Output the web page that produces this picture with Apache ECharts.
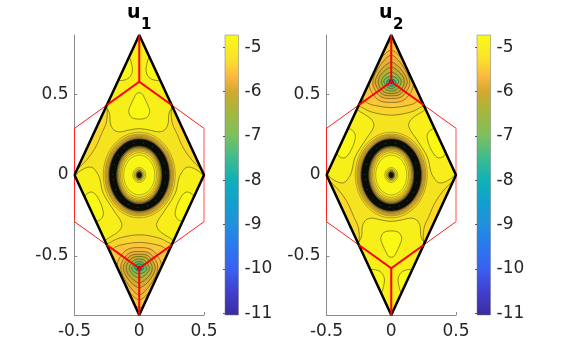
<!DOCTYPE html>
<html>
<head>
<meta charset="utf-8">
<style>html,body{margin:0;background:#fff}#main{width:572px;height:354px}</style>
<script src="https://cdn.jsdelivr.net/npm/echarts@6/dist/echarts.min.js"></script>
</head>
<body>
<div id="main"></div>
<script>
// tick labels
var xTicks = [-0.5, 0, 0.5];
var yTicks = [-0.5, 0, 0.5];
var barTicks = [-11, -10, -9, -8, -7, -6, -5];

// colour bar
var barRange = [-11.04, -4.72];
var barValues = [-4.72, -5.3, -5.66, -6, -6.5, -7, -7.5, -8, -8.5, -9, -9.5, -10, -10.5, -11.04];
var barColors = ['#f9fb15', '#fadf2c', '#fdb840', '#d2a92e', '#a2b83f', '#7cc05f', '#3cbc90', '#10b0b8', '#12a0d0', '#2090dc', '#2a78f0', '#3a60f0', '#4040d0', '#3a2ca0'];

// mesh lines
var rhombus = [[-0.5, 0], [0, 0.866], [0.5, 0], [0, -0.866], [-0.5, 0]];
var hexagon = [[0.5, 0.2887], [0, 0.577], [-0.5, 0.2887], [-0.5, -0.2887], [0, -0.577], [0.5, -0.2887]];
var hexRight = [[0.5, -0.2887], [0.5, 0.2887]];
var edgesTop = [[-0.25, 0.433], [0, 0.577], [0.25, 0.433]];
var edgesTopV = [[0, 0.577], [0, 0.866]];
var edgesBot = [[-0.25, -0.433], [0, -0.577], [0.25, -0.433]];
var edgesBotV = [[0, -0.577], [0, -0.866]];

// rings round the centre (both panels): half width, half height, fill
var ringRx = [0.278, 0.266, 0.259, 0.251, 0.243, 0.237, 0.232, 0.176, 0.168, 0.161, 0.154, 0.145, 0.134, 0.12, 0.05, 0.039, 0.027, 0.019];
var ringRy = [0.265, 0.253, 0.246, 0.239, 0.233, 0.228, 0.222, 0.18, 0.172, 0.165, 0.157, 0.149, 0.138, 0.123, 0.046, 0.037, 0.028, 0.019];
var ringFill = ['#f8d92b', '#fbcf32', '#fbc43a', '#f4b93a', '#e0ad30', '#8a7a28', '#0b0b08', '#6a6a24', '#c0a42c', '#f0b63a', '#fbcb32', '#f8dd28', '#f6ec1e', '#f8f517', '#f5ea1e', '#e5c52a', '#7a7a30', '#111111'];
var speckRing = [0, 0, 0.204, 0.201];

// contours of u1, painted in this order
var u1Contours = [
  [[-0.262, 0.44], [-0.23, 0.383], [-0.222, 0.315], [-0.195, 0.278], [-0.149, 0.267], [-0.079, 0.278], [0, 0.287], [0.079, 0.278], [0.149, 0.267], [0.195, 0.278], [0.222, 0.315], [0.23, 0.383], [0.262, 0.44], [0.2, 0.8], [0, 1.1], [-0.2, 0.8]],
  [[-0.08, 0.73], [-0.058, 0.682], [-0.054, 0.638], [-0.077, 0.603], [-0.123, 0.586], [-0.17, 0.59], [-0.22, 0.66], [-0.15, 0.76]],
  [[0.08, 0.73], [0.058, 0.682], [0.054, 0.638], [0.077, 0.603], [0.123, 0.586], [0.17, 0.59], [0.22, 0.66], [0.15, 0.76]],
  [[-0.018, 0.505], [-0.041, 0.475], [-0.066, 0.432], [-0.081, 0.391], [-0.058, 0.356], [0, 0.346], [0.058, 0.356], [0.081, 0.391], [0.066, 0.432], [0.041, 0.475], [0.018, 0.505]],
  [[-0.26, 0.44], [-0.252, 0.333], [-0.29, 0.257], [-0.342, 0.165], [-0.406, 0.093], [-0.471, 0.041], [-0.52, 0], [-0.56, 0.2], [-0.35, 0.5]],
  [[0.26, 0.44], [0.252, 0.333], [0.29, 0.257], [0.342, 0.165], [0.406, 0.093], [0.471, 0.041], [0.52, 0], [0.56, 0.2], [0.35, 0.5]],
  [[-0.5, -0.02], [-0.444, 0.031], [-0.367, 0.048], [-0.316, 0], [-0.303, -0.031], [-0.278, -0.113], [-0.2, -0.216], [-0.136, -0.298], [-0.149, -0.34], [-0.239, -0.391], [-0.31, -0.42], [-0.48, -0.2]],
  [[0.5, -0.02], [0.444, 0.031], [0.367, 0.048], [0.316, 0], [0.303, -0.031], [0.278, -0.113], [0.2, -0.216], [0.136, -0.298], [0.149, -0.34], [0.239, -0.391], [0.31, -0.42], [0.48, -0.2]],
  [[-0.42, -0.13], [-0.367, -0.105], [-0.32, -0.14], [-0.278, -0.227], [-0.29, -0.268], [-0.34, -0.285], [-0.44, -0.2]],
  [[0.42, -0.13], [0.367, -0.105], [0.32, -0.14], [0.278, -0.227], [0.29, -0.268], [0.34, -0.285], [0.44, -0.2]],
  [[-0.31, -0.46], [-0.226, -0.418], [-0.149, -0.389], [0, -0.37], [0.149, -0.389], [0.226, -0.418], [0.31, -0.46], [0.2, -0.8], [0, -1], [-0.2, -0.8]],
  [[0, -0.417], [-0.136, -0.432], [-0.195, -0.452], [-0.26, -0.52], [-0.19, -0.68], [-0.07, -0.775], [0, -0.821], [0.07, -0.775], [0.19, -0.68], [0.26, -0.52], [0.195, -0.452], [0.136, -0.432]],
  [[0, -0.449], [-0.09, -0.46], [-0.15, -0.51], [-0.172, -0.568], [-0.15, -0.63], [-0.09, -0.71], [-0.04, -0.755], [0, -0.772], [0.04, -0.755], [0.09, -0.71], [0.15, -0.63], [0.172, -0.568], [0.15, -0.51], [0.09, -0.46]],
  [[0, -0.473], [-0.075, -0.482], [-0.125, -0.525], [-0.143, -0.57], [-0.125, -0.625], [-0.075, -0.69], [-0.03, -0.73], [0, -0.741], [0.03, -0.73], [0.075, -0.69], [0.125, -0.625], [0.143, -0.57], [0.125, -0.525], [0.075, -0.482]],
  [[0, -0.49], [-0.065, -0.498], [-0.105, -0.535], [-0.124, -0.575], [-0.105, -0.62], [-0.065, -0.665], [-0.025, -0.69], [0, -0.698], [0.025, -0.69], [0.065, -0.665], [0.105, -0.62], [0.124, -0.575], [0.105, -0.535], [0.065, -0.498]],
  [[0, -0.504], [-0.055, -0.513], [-0.09, -0.545], [-0.1, -0.58], [-0.085, -0.615], [-0.05, -0.645], [-0.02, -0.662], [0, -0.667], [0.02, -0.662], [0.05, -0.645], [0.085, -0.615], [0.1, -0.58], [0.09, -0.545], [0.055, -0.513]],
  [[0, -0.52], [-0.04, -0.528], [-0.068, -0.555], [-0.077, -0.58], [-0.062, -0.605], [-0.035, -0.625], [0, -0.636], [0.035, -0.625], [0.062, -0.605], [0.077, -0.58], [0.068, -0.555], [0.04, -0.528]],
  [[0, -0.535], [-0.03, -0.542], [-0.05, -0.565], [-0.058, -0.58], [-0.04, -0.6], [0, -0.611], [0.04, -0.6], [0.058, -0.58], [0.05, -0.565], [0.03, -0.542]],
  [[0, -0.549], [-0.025, -0.555], [-0.035, -0.575], [-0.02, -0.59], [0, -0.593], [0.02, -0.59], [0.035, -0.575], [0.025, -0.555]],
  [[0, -0.565], [-0.014, -0.57], [-0.016, -0.58], [0, -0.59], [0.016, -0.58], [0.014, -0.57]]
];

// contours of u2
var u2Contours = [
  [[-0.262, -0.44], [-0.23, -0.383], [-0.222, -0.315], [-0.195, -0.278], [-0.149, -0.267], [-0.079, -0.278], [0, -0.287], [0.079, -0.278], [0.149, -0.267], [0.195, -0.278], [0.222, -0.315], [0.23, -0.383], [0.262, -0.44], [0.2, -0.8], [0, -1.1], [-0.2, -0.8]],
  [[-0.08, -0.73], [-0.058, -0.682], [-0.054, -0.638], [-0.077, -0.603], [-0.123, -0.586], [-0.17, -0.59], [-0.22, -0.66], [-0.15, -0.76]],
  [[0.08, -0.73], [0.058, -0.682], [0.054, -0.638], [0.077, -0.603], [0.123, -0.586], [0.17, -0.59], [0.22, -0.66], [0.15, -0.76]],
  [[-0.018, -0.505], [-0.041, -0.475], [-0.066, -0.432], [-0.081, -0.391], [-0.058, -0.356], [0, -0.346], [0.058, -0.356], [0.081, -0.391], [0.066, -0.432], [0.041, -0.475], [0.018, -0.505]],
  [[-0.26, -0.44], [-0.252, -0.333], [-0.29, -0.257], [-0.342, -0.165], [-0.406, -0.093], [-0.471, -0.041], [-0.52, 0], [-0.56, -0.2], [-0.35, -0.5]],
  [[0.26, -0.44], [0.252, -0.333], [0.29, -0.257], [0.342, -0.165], [0.406, -0.093], [0.471, -0.041], [0.52, 0], [0.56, -0.2], [0.35, -0.5]],
  [[-0.5, 0.02], [-0.444, -0.031], [-0.367, -0.048], [-0.316, 0], [-0.303, 0.031], [-0.278, 0.113], [-0.2, 0.216], [-0.136, 0.298], [-0.149, 0.34], [-0.239, 0.391], [-0.31, 0.42], [-0.48, 0.2]],
  [[0.5, 0.02], [0.444, -0.031], [0.367, -0.048], [0.316, 0], [0.303, 0.031], [0.278, 0.113], [0.2, 0.216], [0.136, 0.298], [0.149, 0.34], [0.239, 0.391], [0.31, 0.42], [0.48, 0.2]],
  [[-0.42, 0.13], [-0.367, 0.105], [-0.32, 0.14], [-0.278, 0.227], [-0.29, 0.268], [-0.34, 0.285], [-0.44, 0.2]],
  [[0.42, 0.13], [0.367, 0.105], [0.32, 0.14], [0.278, 0.227], [0.29, 0.268], [0.34, 0.285], [0.44, 0.2]],
  [[-0.31, 0.46], [-0.226, 0.418], [-0.149, 0.389], [0, 0.37], [0.149, 0.389], [0.226, 0.418], [0.31, 0.46], [0.2, 0.8], [0, 1], [-0.2, 0.8]],
  [[0, 0.417], [-0.136, 0.432], [-0.195, 0.452], [-0.26, 0.52], [-0.19, 0.68], [-0.07, 0.775], [0, 0.821], [0.07, 0.775], [0.19, 0.68], [0.26, 0.52], [0.195, 0.452], [0.136, 0.432]],
  [[0, 0.449], [-0.09, 0.46], [-0.15, 0.51], [-0.172, 0.568], [-0.15, 0.63], [-0.09, 0.71], [-0.04, 0.755], [0, 0.772], [0.04, 0.755], [0.09, 0.71], [0.15, 0.63], [0.172, 0.568], [0.15, 0.51], [0.09, 0.46]],
  [[0, 0.473], [-0.075, 0.482], [-0.125, 0.525], [-0.143, 0.57], [-0.125, 0.625], [-0.075, 0.69], [-0.03, 0.73], [0, 0.741], [0.03, 0.73], [0.075, 0.69], [0.125, 0.625], [0.143, 0.57], [0.125, 0.525], [0.075, 0.482]],
  [[0, 0.49], [-0.065, 0.498], [-0.105, 0.535], [-0.124, 0.575], [-0.105, 0.62], [-0.065, 0.665], [-0.025, 0.69], [0, 0.698], [0.025, 0.69], [0.065, 0.665], [0.105, 0.62], [0.124, 0.575], [0.105, 0.535], [0.065, 0.498]],
  [[0, 0.504], [-0.055, 0.513], [-0.09, 0.545], [-0.1, 0.58], [-0.085, 0.615], [-0.05, 0.645], [-0.02, 0.662], [0, 0.667], [0.02, 0.662], [0.05, 0.645], [0.085, 0.615], [0.1, 0.58], [0.09, 0.545], [0.055, 0.513]],
  [[0, 0.52], [-0.04, 0.528], [-0.068, 0.555], [-0.077, 0.58], [-0.062, 0.605], [-0.035, 0.625], [0, 0.636], [0.035, 0.625], [0.062, 0.605], [0.077, 0.58], [0.068, 0.555], [0.04, 0.528]],
  [[0, 0.535], [-0.03, 0.542], [-0.05, 0.565], [-0.058, 0.58], [-0.04, 0.6], [0, 0.611], [0.04, 0.6], [0.058, 0.58], [0.05, 0.565], [0.03, 0.542]],
  [[0, 0.549], [-0.025, 0.555], [-0.035, 0.575], [-0.02, 0.59], [0, 0.593], [0.02, 0.59], [0.035, 0.575], [0.025, 0.555]],
  [[0, 0.565], [-0.014, 0.57], [-0.016, 0.58], [0, 0.59], [0.016, 0.58], [0.014, 0.57]]
];

// fill of each contour, same order as the lists above
var contourFill = ['#f7ee1a', '#f9f915', '#f9f915', '#f9f915', '#fad92a', '#fad92a', '#f7ee1a', '#f7ee1a', '#f9f915', '#f9f915',
  '#f9d42c', '#fbc63a', '#f6bb3b', '#e8b237', '#d4ab2f', '#b8b037', '#96b848', '#6cbc66', '#36a898', '#0a2a2a'];

var baseFill = '#f5e31f';
var contourLine = 'rgba(50,50,15,0.85)';
var labelFont = 'DejaVu Sans';

function rhombusClip(api) {
  return { type: 'polygon', shape: { points: rhombus.map(function (p) { return api.coord(p); }) } };
}

function contourSeries(shapes, idx) {
  return {
    type: 'custom', xAxisIndex: idx, yAxisIndex: idx, z: 3, animation: false, silent: true, clip: false,
    data: shapes.map(function (s, i) { return [i]; }),
    renderItem: function (params, api) {
      var i = params.dataIndex;
      return {
        type: 'polygon',
        shape: { points: shapes[i].map(function (p) { return api.coord(p); }), smooth: 0.35 },
        clipPath: rhombusClip(api),
        style: { fill: contourFill[i], stroke: contourLine, lineWidth: 0.6 }
      };
    }
  };
}

function ringSeries(idx) {
  return {
    type: 'custom', xAxisIndex: idx, yAxisIndex: idx, z: 4, animation: false, silent: true, clip: false,
    data: ringRx.map(function (r, i) { return [0, 0, r, ringRy[i]]; }),
    renderItem: function (params, api) {
      var c = api.coord([api.value(0), api.value(1)]);
      var s = api.size([api.value(2), api.value(3)]);
      return {
        type: 'ellipse',
        shape: { cx: c[0], cy: c[1], rx: s[0], ry: s[1] },
        style: { fill: ringFill[params.dataIndex], stroke: contourLine, lineWidth: 0.4 }
      };
    }
  };
}

// the teal flecks inside the black band
function speckSeries(idx) {
  return {
    type: 'custom', xAxisIndex: idx, yAxisIndex: idx, z: 5, animation: false, silent: true, clip: false,
    data: [speckRing],
    renderItem: function (params, api) {
      var c = api.coord([api.value(0), api.value(1)]);
      var s = api.size([api.value(2), api.value(3)]);
      return {
        type: 'ellipse',
        shape: { cx: c[0], cy: c[1], rx: s[0], ry: s[1] },
        style: { fill: 'none', stroke: '#0f5f66', lineWidth: 0.8, lineDash: [1, 9] }
      };
    }
  };
}

function lineSeries(points, idx, color, width, z) {
  return {
    type: 'line', xAxisIndex: idx, yAxisIndex: idx, data: points, z: z, clip: false,
    showSymbol: false, silent: true, animation: false,
    lineStyle: { color: color, width: width }
  };
}

function barSeries(idx) {
  var span = barRange[1] - barRange[0];
  var stops = barValues.map(function (v, i) {
    return { offset: (barRange[1] - v) / span, color: barColors[i] };
  });
  return {
    type: 'custom', xAxisIndex: idx, yAxisIndex: idx, animation: false, silent: true, clip: false,
    data: [[0, barRange[1], 1, span]],
    renderItem: function (params, api) {
      var c = api.coord([api.value(0), api.value(1)]);
      var s = api.size([api.value(2), api.value(3)]);
      return {
        type: 'rect',
        shape: { x: c[0], y: c[1], width: s[0], height: s[1] },
        style: { fill: new echarts.graphic.LinearGradient(0, 0, 0, 1, stops), stroke: '#777', lineWidth: 0.5 }
      };
    }
  };
}

function plotAxes(x, y) {
  x.push({
    gridIndex: x.length, type: 'value', min: -0.5, max: 0.5, splitLine: { show: false },
    axisLine: { onZero: false, lineStyle: { color: '#8a8a8a' } },
    axisTick: { inside: true, length: 3, customValues: xTicks, lineStyle: { color: '#8a8a8a' } },
    axisLabel: { customValues: xTicks, margin: 8, color: '#262626', fontFamily: labelFont, fontSize: 17, hideOverlap: false }
  });
  y.push({
    gridIndex: y.length, type: 'value', min: -0.866, max: 0.866, splitLine: { show: false },
    axisLine: { onZero: false, lineStyle: { color: '#8a8a8a' } },
    axisTick: { inside: true, length: 3, customValues: yTicks, lineStyle: { color: '#8a8a8a' } },
    axisLabel: { customValues: yTicks, margin: 6, color: '#262626', fontFamily: labelFont, fontSize: 17 }
  });
}

function barAxes(x, y) {
  x.push({ gridIndex: x.length, type: 'value', min: 0, max: 1, show: false });
  y.push({
    gridIndex: y.length, type: 'value', position: 'right', min: barRange[0], max: barRange[1],
    splitLine: { show: false }, axisLine: { show: false },
    axisTick: { inside: true, length: 2, customValues: barTicks, lineStyle: { color: '#555' } },
    axisLabel: { customValues: barTicks, margin: 6, color: '#262626', fontFamily: labelFont, fontSize: 17 }
  });
}

function panel(shapes, idx) {
  var out = [
    { type: 'custom', xAxisIndex: idx, yAxisIndex: idx, z: 2, animation: false, silent: true, clip: false, data: [[0]],
      renderItem: function (params, api) {
        return { type: 'polygon', shape: { points: rhombus.map(function (p) { return api.coord(p); }) }, style: { fill: baseFill } };
      } },
    contourSeries(shapes, idx),
    ringSeries(idx),
    speckSeries(idx),
    lineSeries(hexagon, idx, '#ff2020', 1, 5),
    lineSeries(hexRight, idx, '#ff8a8a', 1.5, 5),
    lineSeries(rhombus, idx, '#000', 2.5, 6),
    lineSeries(edgesTop, idx, '#ff0000', 2, 7),
    lineSeries(edgesTopV, idx, '#ff0000', 2, 7),
    lineSeries(edgesBot, idx, '#ff0000', 2, 7),
    lineSeries(edgesBotV, idx, '#ff0000', 2, 7),
    barSeries(idx + 1)
  ];
  return out;
}

var xAxes = [], yAxes = [];
plotAxes(xAxes, yAxes);
barAxes(xAxes, yAxes);
plotAxes(xAxes, yAxes);
barAxes(xAxes, yAxes);

var titleU = { color: '#000', fontFamily: labelFont, fontWeight: 'bold', fontSize: 19 };
var titleSub = { color: '#000', fontFamily: labelFont, fontWeight: 'bold', fontSize: 15 };

var option = {
  backgroundColor: '#fff',
  animation: false,
  title: [
    { text: 'u', left: 127, top: 4, padding: 0, textStyle: titleU },
    { text: '1', left: 141, top: 18, padding: 0, textStyle: titleSub },
    { text: 'u', left: 379, top: 4, padding: 0, textStyle: titleU },
    { text: '2', left: 393, top: 18, padding: 0, textStyle: titleSub }
  ],
  grid: [
    { left: 74.5, top: 35, width: 129.5, height: 280 },
    { left: 225, top: 35, width: 13.5, height: 280 },
    { left: 326.5, top: 35, width: 129.5, height: 280 },
    { left: 477, top: 35, width: 13.5, height: 280 }
  ],
  xAxis: xAxes,
  yAxis: yAxes,
  series: panel(u1Contours, 0).concat(panel(u2Contours, 2))
};

echarts.init(document.getElementById('main')).setOption(option);
</script>
</body>
</html>
